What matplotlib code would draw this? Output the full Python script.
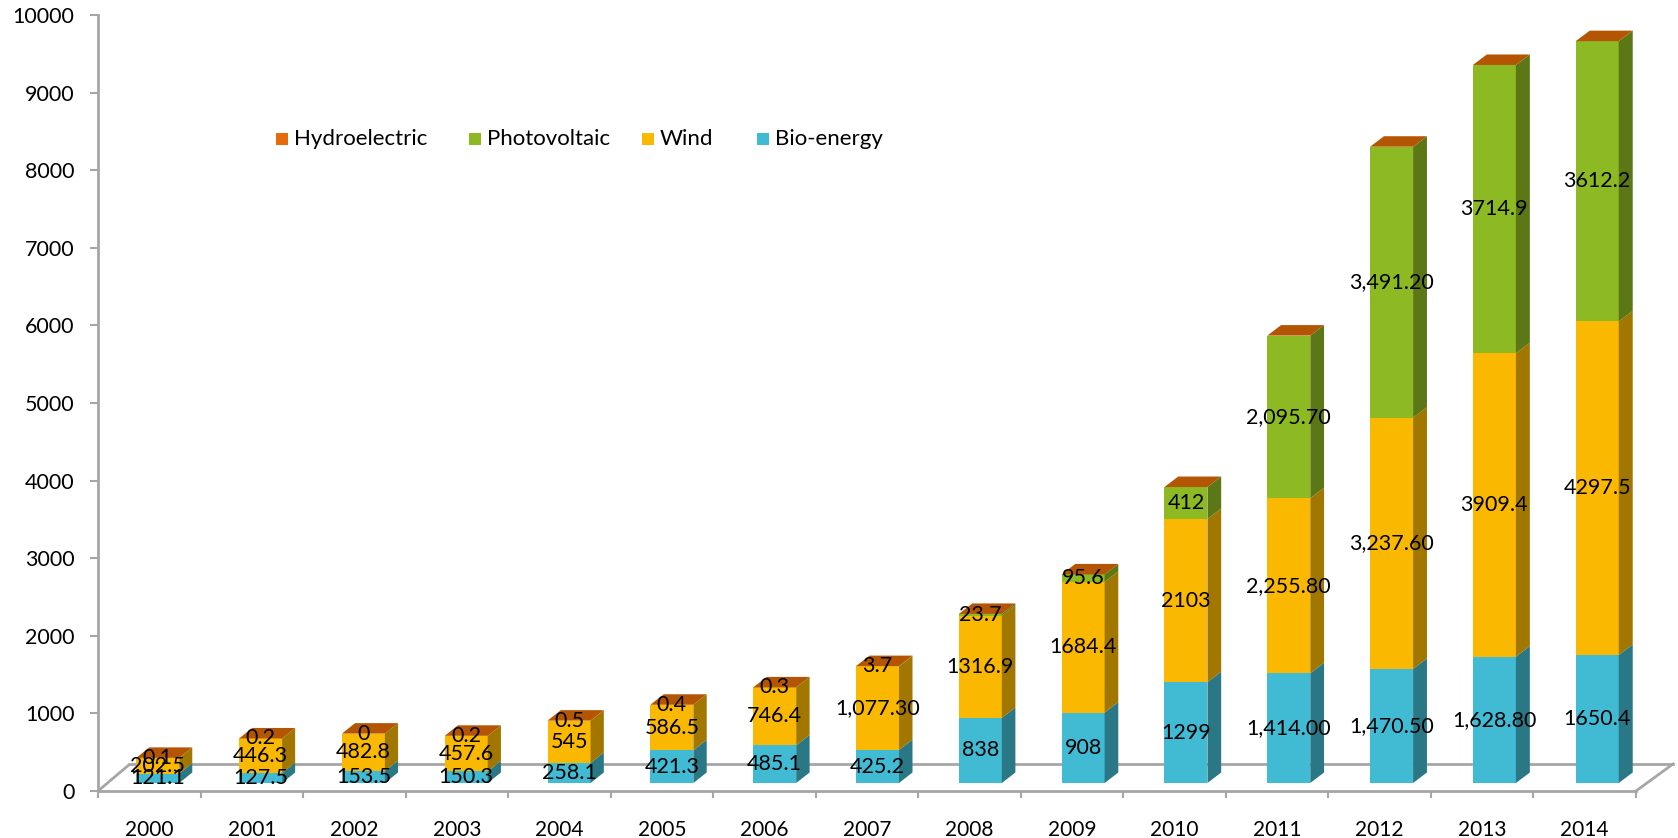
import matplotlib
matplotlib.use("Agg")
import matplotlib.pyplot as plt
from matplotlib.patches import Polygon, Rectangle

plt.rcParams['font.family'] = ['Lato', 'DejaVu Sans']

# ---------------- data ----------------
years = ["2000", "2001", "2002", "2003", "2004", "2005", "2006", "2007",
         "2008", "2009", "2010", "2011", "2012", "2013", "2014"]
bio = [121.1, 127.5, 153.5, 150.3, 258.1, 421.3, 485.1, 425.2, 838, 908,
       1299, 1414.00, 1470.50, 1628.80, 1650.4]
wind = [202.5, 446.3, 482.8, 457.6, 545, 586.5, 746.4, 1077.30, 1316.9,
        1684.4, 2103, 2255.80, 3237.60, 3909.4, 4297.5]
pv = [0.1, 0.2, 0, 0.2, 0.5, 0.4, 0.3, 3.7, 23.7, 95.6, 412, 2095.70,
      3491.20, 3714.9, 3612.2]
hydro = [0, 0, 0, 0, 0, 0, 0, 0, 0, 0, 0, 0, 0, 0, 0]

bio_labels = ["121.1", "127.5", "153.5", "150.3", "258.1", "421.3", "485.1",
              "425.2", "838", "908", "1299", "1,414.00", "1,470.50",
              "1,628.80", "1650.4"]
wind_labels = ["202.5", "446.3", "482.8", "457.6", "545", "586.5", "746.4",
               "1,077.30", "1316.9", "1684.4", "2103", "2,255.80",
               "3,237.60", "3909.4", "4297.5"]
pv_labels = ["0.1", "0.2", "0", "0.2", "0.5", "0.4", "0.3", "3.7", "23.7",
             "95.6", "412", "2,095.70", "3,491.20", "3714.9", "3612.2"]

yticks = [0, 1000, 2000, 3000, 4000, 5000, 6000, 7000, 8000, 9000, 10000]

# stacking order bottom -> top
series = [
    ("Bio-energy", bio, bio_labels, "#41BAD3", "#2A7886", "#5CCBE2"),
    ("Wind", wind, wind_labels, "#FBB800", "#A27700", "#FFCB40"),
    ("Photovoltaic", pv, pv_labels, "#8DB922", "#5B7716", "#A6CF45"),
    ("Hydroelectric", hydro, None, "#E46C0A", "#9A4A06", "#B45504"),
]
legend_order = ["Hydroelectric", "Photovoltaic", "Wind", "Bio-energy"]

# ---------------- figure ----------------
W, H = 1678, 838
fig = plt.figure(figsize=(W / 100, H / 100), dpi=100)
ax_left, ax_right = 98, 1636
ax_top, ax_bot = 15, 791
ax = fig.add_axes([ax_left / W, (H - ax_bot) / H,
                   (ax_right - ax_left) / W, (ax_bot - ax_top) / H])
n = len(years)
ax.set_xlim(-0.5, n - 0.5)
ax.set_ylim(0, 10000)

PX_PER_CAT = (ax_right - ax_left) / n
PX_PER_UNIT = (ax_bot - ax_top) / 10000.0


def dxp(px):
    return px / PX_PER_CAT


def dyp(px):
    return px / PX_PER_UNIT


grey = "#A6A6A6"

# floor outline
fl_dy = dyp(27)
ax.plot([-0.5, -0.5 + dxp(32)], [0, fl_dy], color=grey, lw=2.0,
        clip_on=False, zorder=1, solid_capstyle='butt')
ax.plot([-0.5 + dxp(32), n - 0.5 + dxp(37)], [fl_dy, fl_dy], color=grey,
        lw=2.0, clip_on=False, zorder=1)
ax.plot([n - 0.5, n - 0.5 + dxp(37)], [0, fl_dy], color=grey, lw=2.0,
        clip_on=False, zorder=1)

# bars
bar_w = dxp(43)
base_y = dyp(8)
for k in range(n):
    xc = k + dxp(8.5 + 4.0 * k / (n - 1))
    ddx = dxp(13 + 1.0 * k / (n - 1))
    ddy = dyp(10.5)
    xl, xr = xc - bar_w / 2, xc + bar_w / 2
    bottom = 0.0
    for name, vals, labs, cf, cs, ct in series:
        v = vals[k]
        b0 = base_y + bottom
        b1 = base_y + bottom + v
        ax.add_patch(Rectangle((xl, b0), bar_w, v, facecolor=cf,
                               edgecolor='none', clip_on=False, zorder=3))
        ax.add_patch(Polygon([(xr, b0), (xr + ddx, b0 + ddy),
                              (xr + ddx, b1 + ddy), (xr, b1)],
                             closed=True, facecolor=cs, edgecolor='none',
                             clip_on=False, zorder=3))
        bottom += v
    # top face in the colour of the topmost series
    top = base_y + bottom
    ax.add_patch(Polygon([(xl, top), (xr, top), (xr + ddx, top + ddy),
                          (xl + ddx, top + ddy)], closed=True,
                         facecolor=series[-1][5], edgecolor='none',
                         clip_on=False, zorder=3))
    # labels
    bottom = 0.0
    for name, vals, labs, cf, cs, ct in series:
        v = vals[k]
        if labs is not None:
            ax.text(xc, base_y + bottom + v / 2, labs[k], ha='center',
                    va='center', fontsize=15.5, color='black', zorder=5)
        bottom += v

# axes styling
for s in ['top', 'right', 'bottom']:
    ax.spines[s].set_visible(False)
ax.spines['left'].set_color(grey)
ax.spines['left'].set_linewidth(2.0)
ax.axhline(0, color=grey, lw=2.0, zorder=1, clip_on=False)

ax.set_yticks(yticks)
ax.set_yticklabels([str(t) for t in yticks])
ax.tick_params(axis='y', direction='out', length=6, width=1.5, color=grey,
               labelsize=15.5, pad=11, labelcolor='black')

ax.set_xticks([k - 0.5 for k in range(n + 1)])
ax.set_xticklabels([])
ax.tick_params(axis='x', which='major', direction='out', length=5, width=1.5,
               color=grey)
ax.set_xticks(list(range(n)), minor=True)
ax.set_xticklabels(years, minor=True)
ax.tick_params(axis='x', which='minor', length=0, labelsize=15, pad=21,
               labelcolor='black')

# legend
leg_y = 139
leg_pos = {"Hydroelectric": 276, "Photovoltaic": 469, "Wind": 642,
           "Bio-energy": 757}
colors = {s[0]: s[3] for s in series}
for name in legend_order:
    x0 = leg_pos[name]
    fig.patches.append(Rectangle((x0 / W, (H - leg_y - 6) / H), 12 / W,
                                 12 / H, transform=fig.transFigure,
                                 facecolor=colors[name], edgecolor='none'))
    fig.text((x0 + 18) / W, (H - leg_y) / H, name, fontsize=16,
             va='center', ha='left', color='black')

fig.savefig("out.png", dpi=100)
